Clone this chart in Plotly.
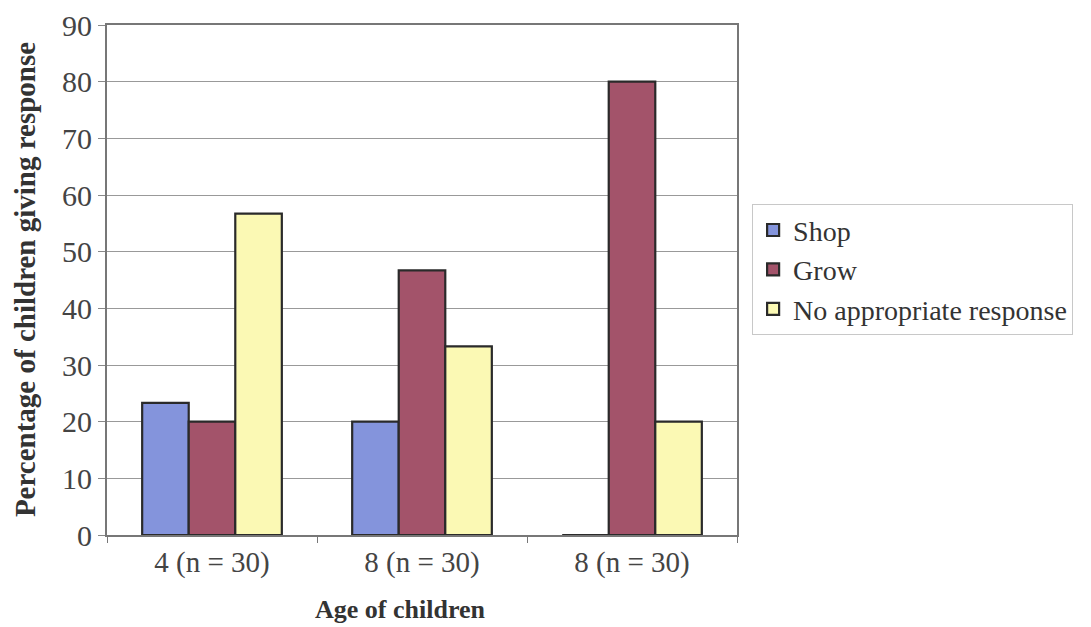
import plotly.graph_objects as go

categories = ["4 (n = 30)", "8 (n = 30)", "8 (n = 30)"]
series_names = ["Shop", "Grow", "No appropriate response"]
shop = [23.3, 20.0, 0.0]
grow = [20.0, 46.7, 80.0]
no_resp = [56.7, 33.3, 20.0]
y_ticks = [0, 10, 20, 30, 40, 50, 60, 70, 80, 90]

colors = ["#8494dc", "#a3536a", "#fbf9b4"]
xpos = list(range(len(categories)))

fig = go.Figure()
for name, vals, col in zip(series_names, [shop, grow, no_resp], colors):
    fig.add_trace(go.Bar(
        x=xpos, y=vals, name=name,
        marker=dict(color=col, line=dict(color="#2a2a2a", width=2.2)),
    ))

font_fam = "Liberation Serif, Times New Roman, serif"
fig.update_layout(
    width=1083, height=619,
    paper_bgcolor="white", plot_bgcolor="white",
    barmode="group", bargap=0.335, bargroupgap=0,
    margin=dict(l=99, r=354, t=17, b=92, autoexpand=False),
    font=dict(family=font_fam, size=26, color="#333333"),
    legend=dict(
        x=1.024, y=0.52, xanchor="left", yanchor="middle",
        bordercolor="#c8c8c8", borderwidth=1,
        font=dict(family=font_fam, size=28, color="#333333"),
        itemwidth=30, tracegroupgap=0,
    ),
    showlegend=True,
)
fig.update_xaxes(
    range=[-0.5, 2.5], automargin=False,
    tickmode="array", tickvals=xpos, ticktext=categories,
    ticks="", showgrid=False,
    showline=True, linecolor="#777777", linewidth=2, mirror=True,
    minor=dict(tickmode="array", tickvals=[-0.5, 0.5, 1.5, 2.5],
               ticks="outside", ticklen=6, tickcolor="#777777", showgrid=False),
    tickfont=dict(family=font_fam, size=29, color="#444444"),
)
fig.update_yaxes(
    range=[0, 90], automargin=False, tickmode="array", tickvals=y_ticks,
    ticks="outside", ticklen=7, tickcolor="#888888",
    showgrid=True, gridcolor="#999999", gridwidth=1,
    showline=True, linecolor="#777777", linewidth=2, mirror=True,
    tickfont=dict(family=font_fam, size=30, color="#444444"),
)
fig.add_annotation(
    text="<b>Age of children</b>", xref="paper", yref="paper",
    x=0.465, y=-0.147, xanchor="center", yanchor="middle", showarrow=False,
    font=dict(family=font_fam, size=26, color="#333333"),
)
fig.add_annotation(
    text="<b>Percentage of children giving response</b>", xref="paper", yref="paper",
    x=-0.13, y=0.5, xanchor="center", yanchor="middle", showarrow=False, textangle=-90,
    font=dict(family=font_fam, size=29, color="#333333"),
)

fig.write_html("out.html")
